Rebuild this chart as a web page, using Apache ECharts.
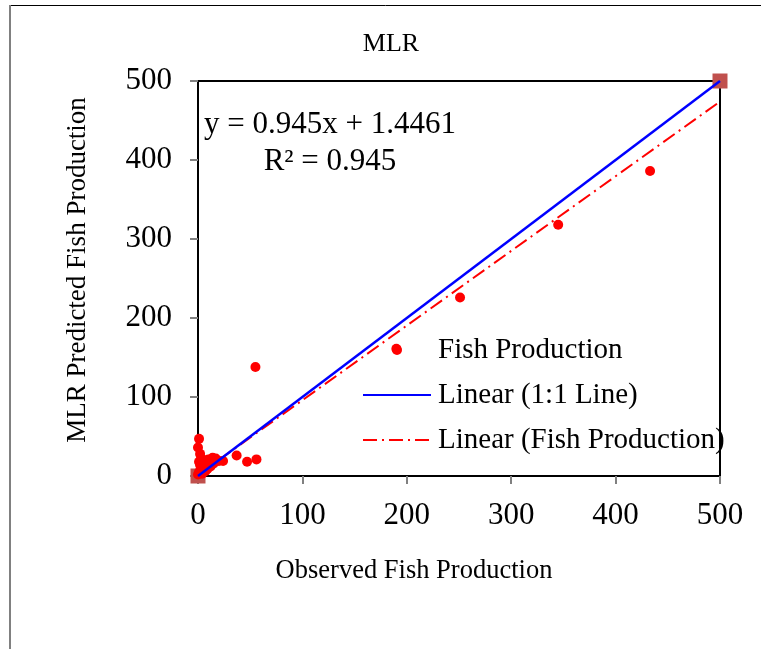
<!DOCTYPE html>
<html>
<head>
<meta charset="utf-8">
<script src="https://cdn.jsdelivr.net/npm/echarts@6/dist/echarts.min.js"></script>
<style>
html,body{margin:0;padding:0;background:#fff;}
#c{width:761px;height:649px;}
</style>
</head>
<body>
<div id="c"></div>
<script>
// Observed vs MLR-predicted fish production
var observed  = [433, 345, 251, 190, 55, 56, 47, 37, 24, 1, 0, 2, 3, 6, 10, 14, 17, 20, 8, 5, 3, 1, 0, 12, 7, 4, 2, 9, 15, 1];
var predicted = [386, 318, 226, 161, 138, 21, 18, 26, 19, 47, 36, 28, 22, 20, 21, 23, 22, 19, 15, 12, 8, 5, 2, 12, 6, 3, 14, 9, 16, 18];
// 1:1 reference series (square markers)
var oneToOneX = [0, 500];
var oneToOneY = [0, 500];
// Linear trendline of Fish Production: y = 0.945x + 1.4461 (end points)
var trendX = [0, 500];
var trendY = [1.4461, 473.95];
var axisTicks = [0, 100, 200, 300, 400, 500];

function pairs(xs, ys){ return xs.map(function(x,i){ return [x, ys[i]]; }); }

var FONT = 'Liberation Serif';
var chart = echarts.init(document.getElementById('c'), null, {renderer:'canvas'});
chart.setOption({
  backgroundColor:'#fff',
  animation:false,
  grid:{left:198, top:81, width:522, height:395, show:true, borderColor:'#000', borderWidth:2, backgroundColor:'transparent'},
  xAxis:{
    type:'value', min:axisTicks[0], max:axisTicks[axisTicks.length-1], interval:100,
    axisLine:{show:true, onZero:false, lineStyle:{color:'#000', width:2}},
    axisTick:{show:true, inside:false, length:8, lineStyle:{color:'#808080', width:2}},
    axisLabel:{fontFamily:FONT, fontSize:31, color:'#000', margin:24},
    splitLine:{show:false}
  },
  yAxis:{
    type:'value', min:axisTicks[0], max:axisTicks[axisTicks.length-1], interval:100,
    axisLine:{show:true, onZero:false, lineStyle:{color:'#000', width:2}},
    axisTick:{show:true, inside:false, length:8, lineStyle:{color:'#808080', width:2}},
    axisLabel:{fontFamily:FONT, fontSize:31, color:'#000', margin:26},
    splitLine:{show:false}
  },
  legend:{
    orient:'vertical', left:362, top:335, padding:0,
    itemWidth:68, itemHeight:10, itemGap:15, selectedMode:false,
    data:[
      {name:'Fish Production'},
      {name:'Linear (1:1 Line)', itemStyle:{opacity:0}},
      {name:'Linear (Fish Production)', itemStyle:{opacity:0}}
    ],
    textStyle:{fontFamily:FONT, fontSize:29, color:'#000', lineHeight:30, padding:[0,0,0,2]}
  },
  series:[
    {
      name:'1:1 Line', type:'scatter', data:pairs(oneToOneX, oneToOneY),
      symbol:'rect', symbolSize:15, itemStyle:{color:'#C0504D', opacity:1}, clip:false, z:1
    },
    {
      name:'Fish Production', type:'scatter', data:pairs(observed, predicted),
      symbol:'circle', symbolSize:10, itemStyle:{color:'#FF0000', opacity:1}, clip:false, z:2
    },
    {
      name:'Linear (Fish Production)', type:'line', data:pairs(trendX, trendY),
      symbol:'none', itemStyle:{color:'#FF0000'},
      lineStyle:{color:'#FF0000', width:2, type:[14,5,2,5]}, z:3
    },
    {
      name:'Linear (1:1 Line)', type:'line', data:pairs(oneToOneX, oneToOneY),
      symbol:'none', itemStyle:{color:'#0000FF'},
      lineStyle:{color:'#0000FF', width:2.5}, z:4
    }
  ],
  graphic:[
    {type:'line', shape:{x1:10, y1:5.5, x2:761, y2:5.5}, style:{stroke:'#000', lineWidth:1}},
    {type:'line', shape:{x1:10, y1:5, x2:10, y2:649}, style:{stroke:'#808080', lineWidth:2}},
    {type:'text', x:391, y:44,
     style:{text:'MLR', font:'26px "Liberation Serif"', fill:'#000', textAlign:'center', textVerticalAlign:'middle'}},
    {type:'text', x:330, y:143,
     style:{text:'y = 0.945x + 1.4461\nR² = 0.945', font:'31px "Liberation Serif"', fill:'#000', textAlign:'center', textVerticalAlign:'middle', lineHeight:37}},
    {type:'text', x:414, y:571,
     style:{text:'Observed Fish Production', font:'26.5px "Liberation Serif"', fill:'#000', textAlign:'center', textVerticalAlign:'middle'}},
    {type:'text', x:78, y:270, rotation:Math.PI/2,
     style:{text:'MLR Predicted Fish Production', font:'27px "Liberation Serif"', fill:'#000', textAlign:'center', textVerticalAlign:'middle'}}
  ]
});
</script>
</body>
</html>
